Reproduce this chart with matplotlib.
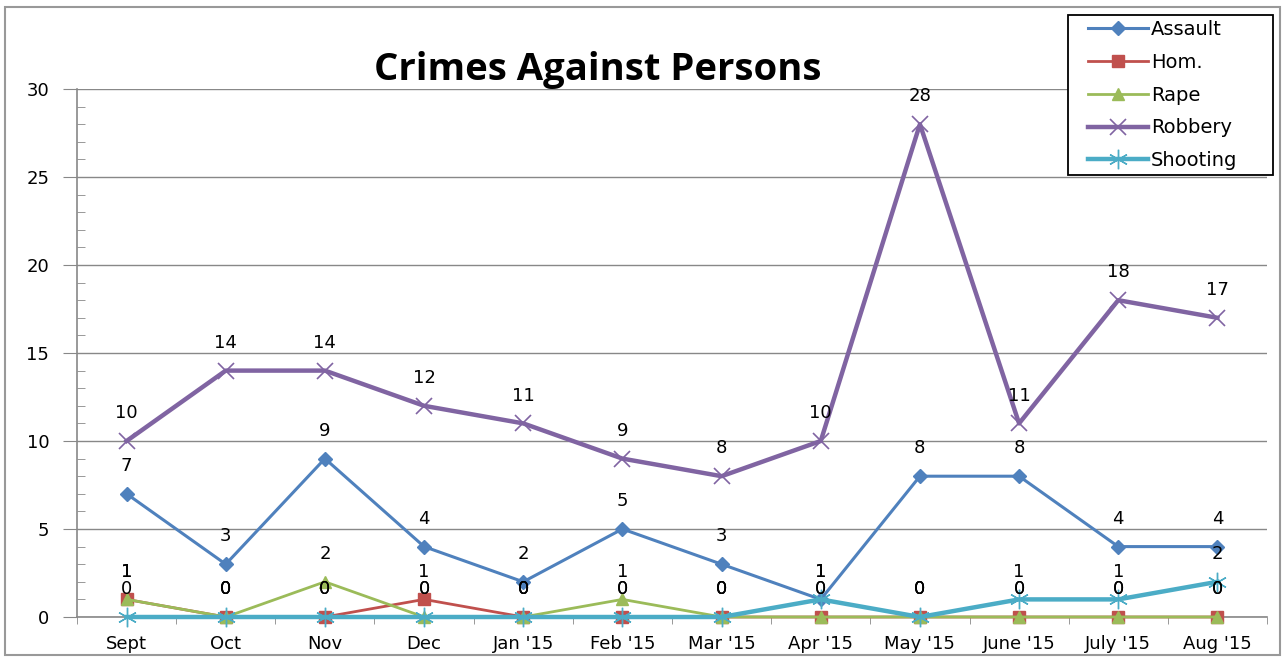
import matplotlib
matplotlib.use("Agg")
import matplotlib.pyplot as plt
from matplotlib.patches import Rectangle
from matplotlib.ticker import MultipleLocator

months = ["Sept", "Oct", "Nov", "Dec", "Jan '15", "Feb '15", "Mar '15",
          "Apr '15", "May '15", "June '15", "July '15", "Aug '15"]
assault = [7, 3, 9, 4, 2, 5, 3, 1, 8, 8, 4, 4]
hom = [1, 0, 0, 1, 0, 0, 0, 0, 0, 0, 0, 0]
rape = [1, 0, 2, 0, 0, 1, 0, 0, 0, 0, 0, 0]
robbery = [10, 14, 14, 12, 11, 9, 8, 10, 28, 11, 18, 17]
shooting = [0, 0, 0, 0, 0, 0, 0, 1, 0, 1, 1, 2]
title = "Crimes Against Persons"

FS = 13
fig = plt.figure(figsize=(12.84, 6.62), dpi=100)
ax = fig.add_axes([77/1284, 1-617/662, (1267-77)/1284, (617-89)/662])

x = list(range(len(months)))
series = [
    ("Assault", assault, "#4F81BD", "D", 7, 2.2, dict()),
    ("Hom.", hom, "#C0504D", "s", 9, 2.0, dict()),
    ("Rape", rape, "#9BBB59", "^", 9, 2.0, dict()),
    ("Robbery", robbery, "#8064A2", "x", 11, 3.2, dict(markeredgewidth=1.2)),
    ("Shooting", shooting, "#4BACC6", (6, 2, 0), 14, 3.2, dict(markeredgewidth=1.0)),
]
handles = []
for name, vals, col, mk, ms, lw, kw in series:
    h, = ax.plot(x, vals, color=col, lw=lw, marker=mk, markersize=ms,
                 markerfacecolor=col, markeredgecolor=col, label=name,
                 clip_on=False, zorder=3, **kw)
    handles.append(h)
    for xi, v in zip(x, vals):
        ax.annotate(str(v), (xi, v), xytext=(0, 20), textcoords="offset points",
                    ha="center", va="center", fontsize=FS, color="black",
                    family="DejaVu Sans", zorder=5)

ax.set_xlim(-0.5, 11.5)
ax.set_ylim(0, 30)
ax.yaxis.set_major_locator(MultipleLocator(5))
ax.yaxis.set_minor_locator(MultipleLocator(1))
ax.set_xticks(x)
ax.set_xticklabels(months, fontsize=FS)
ax.set_xticks([i + 0.5 for i in range(-1, 12)], minor=True)
ax.tick_params(axis="x", which="major", length=0, pad=13)
ax.tick_params(axis="x", which="minor", length=5, color="#888888", direction="out")
ax.tick_params(axis="y", which="major", length=10, color="#888888", direction="out",
               labelsize=FS, pad=10)
ax.tick_params(axis="y", which="minor", length=6, color="#888888", direction="in")
for lbl in ax.get_yticklabels() + ax.get_xticklabels():
    lbl.set_family("DejaVu Sans")
ax.grid(axis="y", which="major", color="#888888", lw=1)
ax.set_axisbelow(True)
for s in ["top", "right"]:
    ax.spines[s].set_visible(False)
ax.spines["left"].set_color("#888888")
ax.spines["bottom"].set_color("#888888")
ax.spines["left"].set_linewidth(1.2)
ax.spines["bottom"].set_linewidth(1.2)

fig.text(598/1284, 1-70/662, title, ha="center", va="center",
         fontsize=27.5, fontweight="bold", family="Open Sans")

# legend box
fig.patches.append(Rectangle((1068/1284, 1-175/662), 205/1284, 160/662,
                             transform=fig.transFigure, facecolor="white",
                             edgecolor="black", lw=1.3, zorder=9))
leg = fig.legend(handles=handles, loc="upper left",
                 bbox_to_anchor=(1088/1284, 1-20/662), borderaxespad=0,
                 frameon=False, handlelength=3.1, borderpad=0,
                 labelspacing=0.71, handletextpad=0.15,
                 prop={"family": "DejaVu Sans", "size": 14})
leg.set_zorder(10)

fig.patches.append(Rectangle((5/1284, 1-655/662), 1275/1284, 648/662,
                             transform=fig.transFigure, fill=False,
                             edgecolor="#999999", lw=1.5))

fig.savefig("out.png", dpi=100)
